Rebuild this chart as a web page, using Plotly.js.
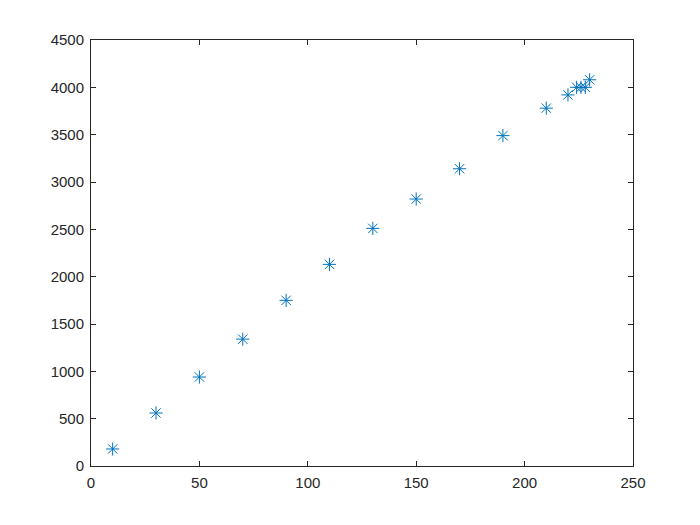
<!DOCTYPE html>
<html>
<head>
<meta charset="utf-8">
<script src="https://cdn.plot.ly/plotly-3.0.1.min.js"></script>
<style>
  body { margin: 0; background: #fff; }
  #graph { width: 700px; height: 525px; }
</style>
</head>
<body>
<div id="graph"></div>
<script>
// values
var xVals = [10, 30, 50, 70, 90, 110, 130, 150, 170, 190, 210, 220, 224, 226, 228, 230];
var yVals = [180, 560, 940, 1340, 1750, 2130, 2510, 2820, 3140, 3490, 3780, 3920, 4000, 4000, 4000, 4080];

var xTicks = [0, 50, 100, 150, 200, 250];
var yTicks = [0, 500, 1000, 1500, 2000, 2500, 3000, 3500, 4000, 4500];

var axisStyle = {
  showgrid: false,
  zeroline: false,
  showline: true,
  linecolor: "#262626",
  linewidth: 1,
  mirror: "ticks",
  ticks: "inside",
  ticklen: 5,
  tickcolor: "#262626",
  ticklabelstandoff: 3,
  tickfont: { family: "Liberation Sans, Arial, sans-serif", size: 15, color: "#262626" }
};

var trace = {
  x: xVals,
  y: yVals,
  mode: "markers",
  type: "scatter",
  marker: {
    symbol: "asterisk-open",
    size: 11,
    color: "#0072BD",
    line: { color: "#0072BD", width: 1 }
  }
};

var layout = {
  width: 700,
  height: 525,
  showlegend: false,
  hovermode: false,
  paper_bgcolor: "#fff",
  plot_bgcolor: "#fff",
  margin: { l: 91, r: 67, t: 40, b: 59 },
  xaxis: Object.assign({}, axisStyle, {
    range: [0, 250],
    autorange: false,
    tickvals: xTicks,
    ticktext: xTicks.map(String)
  }),
  yaxis: Object.assign({}, axisStyle, {
    range: [0, 4500],
    autorange: false,
    tickvals: yTicks,
    ticktext: yTicks.map(String)
  })
};

Plotly.newPlot("graph", [trace], layout, { displayModeBar: false, staticPlot: true });
</script>
</body>
</html>
